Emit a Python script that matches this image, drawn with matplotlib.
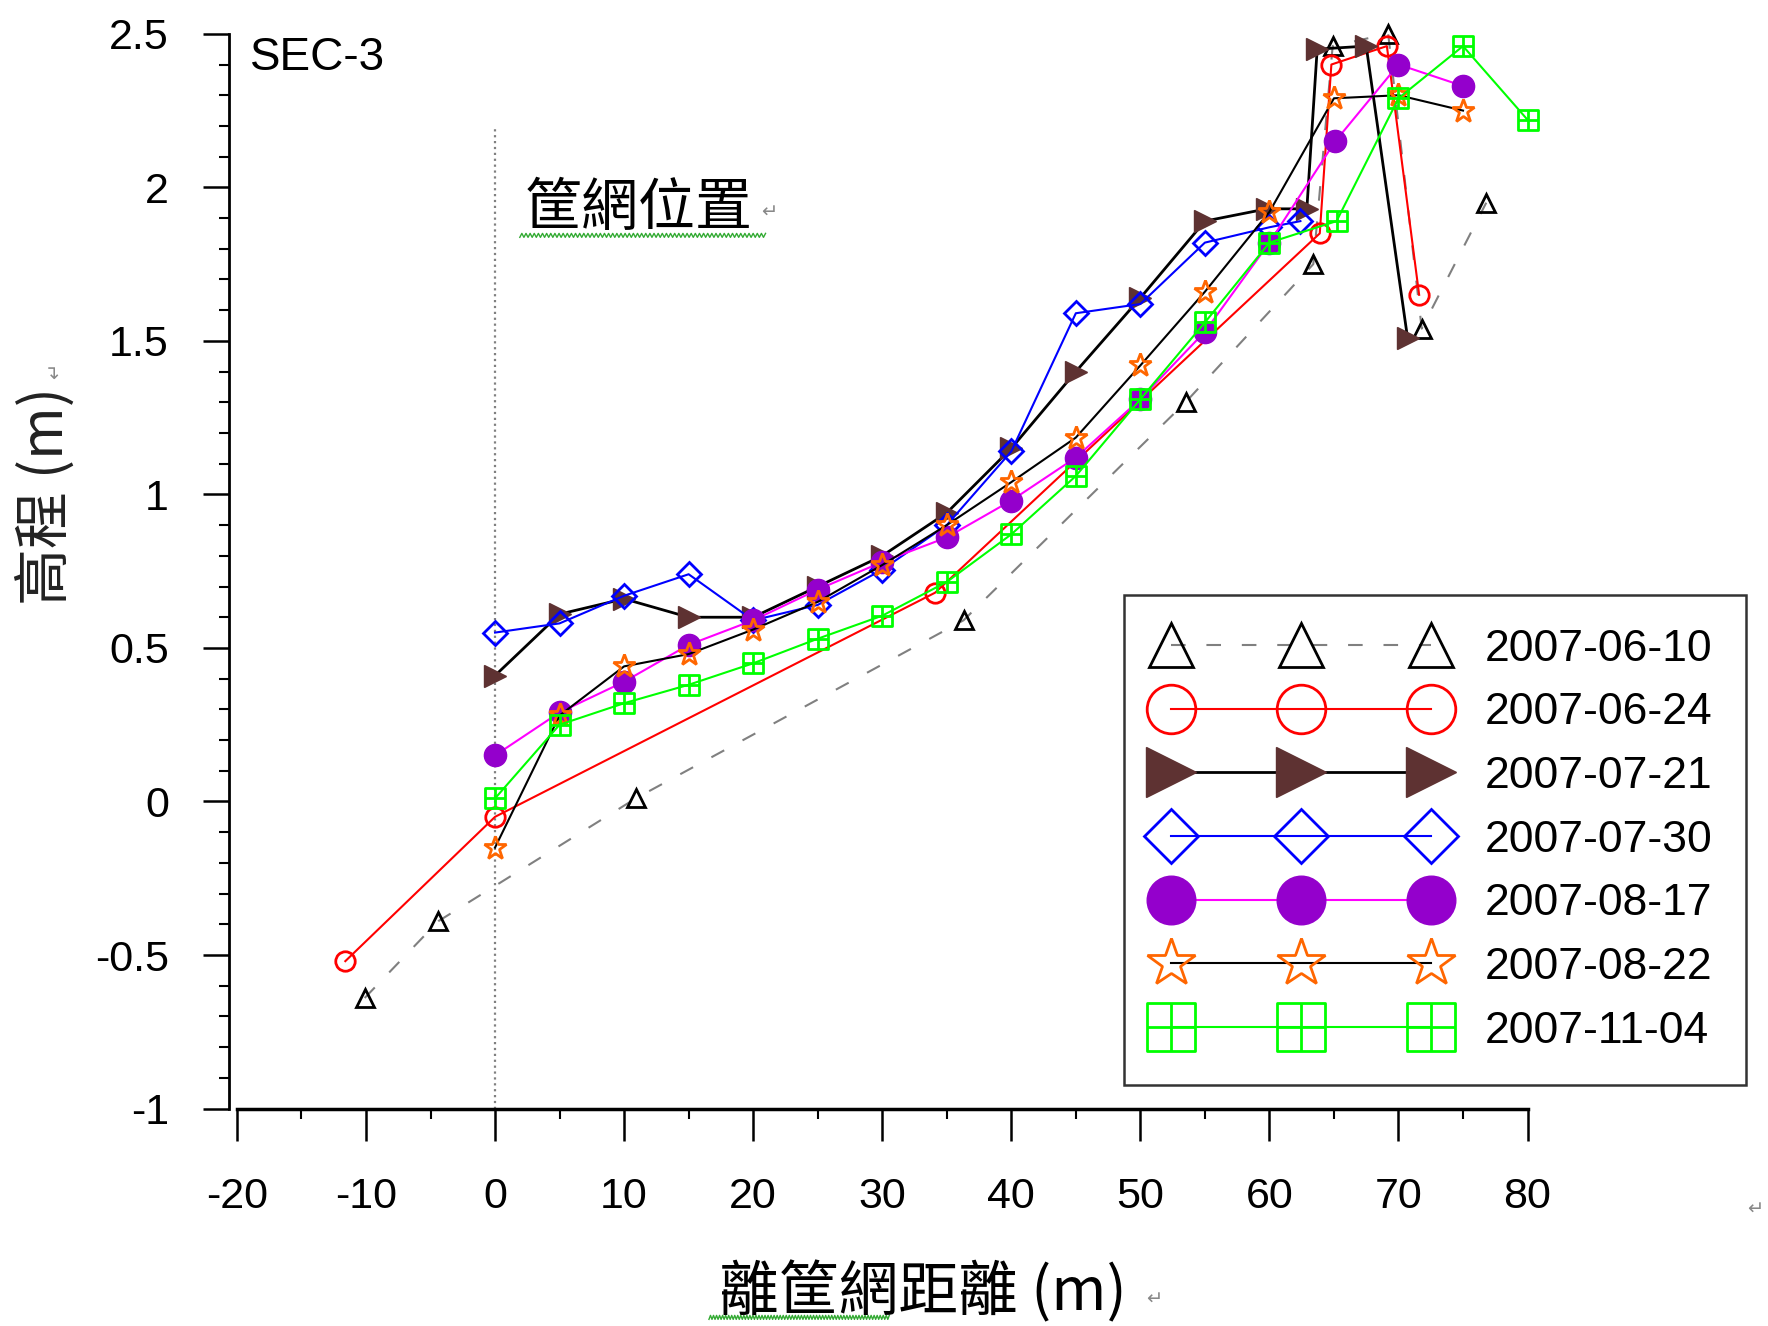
import numpy as np
import matplotlib
matplotlib.use("Agg")
import matplotlib.pyplot as plt
from matplotlib.path import Path
from matplotlib.ticker import MultipleLocator, FormatStrFormatter

plt.rcParams['font.family'] = ['Liberation Sans', 'Noto Sans CJK TC', 'DejaVu Sans']
plt.rcParams['axes.unicode_minus'] = False

# survey dates
labels = ['2007-06-10', '2007-06-24', '2007-07-21', '2007-07-30',
          '2007-08-17', '2007-08-22', '2007-11-04']

# distance from net (m) / elevation (m)
x_0610 = [-10.1, -4.4, 10.9, 36.3, 53.5, 63.4, 64.9, 69.2, 71.8, 76.8]
y_0610 = [-0.64, -0.39, 0.01, 0.59, 1.30, 1.75, 2.46, 2.50, 1.54, 1.95]

x_0624 = [-11.6, 0, 34.1, 63.9, 64.8, 69.1, 71.6]
y_0624 = [-0.52, -0.05, 0.68, 1.85, 2.40, 2.46, 1.65]

x_0721 = [0, 5, 10, 15, 20, 25, 30, 35, 40, 45, 50, 55, 59.8, 62.9, 63.7, 67.5, 70.7]
y_0721 = [0.41, 0.61, 0.66, 0.60, 0.60, 0.70, 0.80, 0.94, 1.15, 1.40, 1.64, 1.89, 1.93, 1.93, 2.45, 2.46, 1.51]

x_0730 = [0, 5, 10, 15, 20, 25, 30, 35, 40, 45, 50, 55, 60, 62.4]
y_0730 = [0.55, 0.58, 0.67, 0.74, 0.59, 0.64, 0.755, 0.90, 1.14, 1.59, 1.62, 1.82, 1.87, 1.89]

x_0817 = [0, 5, 10, 15, 20, 25, 30, 35, 40, 45, 50, 55, 60, 65.1, 70, 75]
y_0817 = [0.15, 0.29, 0.39, 0.51, 0.59, 0.69, 0.78, 0.86, 0.98, 1.12, 1.31, 1.53, 1.82, 2.15, 2.40, 2.33]

x_0822 = [0, 5, 10, 15, 20, 25, 30, 35, 40, 45, 50, 55, 60, 65, 70, 75]
y_0822 = [-0.15, 0.28, 0.44, 0.48, 0.56, 0.65, 0.77, 0.90, 1.04, 1.185, 1.42, 1.66, 1.92, 2.29, 2.30, 2.25]

x_1104 = [0, 5, 10, 15, 20, 25, 30, 35, 40, 45, 50, 55, 60, 65.2, 70, 75, 80]
y_1104 = [0.01, 0.25, 0.32, 0.38, 0.45, 0.53, 0.605, 0.715, 0.87, 1.06, 1.31, 1.56, 1.82, 1.89, 2.29, 2.46, 2.22]

net_x = 0
net_top = 2.19

# square with a cross inside
sq_cross = Path([(-1, -1), (1, -1), (1, 1), (-1, 1), (-1, -1),
                 (0, -1), (0, 1), (-1, 0), (1, 0)],
                [Path.MOVETO, Path.LINETO, Path.LINETO, Path.LINETO, Path.CLOSEPOLY,
                 Path.MOVETO, Path.LINETO, Path.MOVETO, Path.LINETO])

fig = plt.figure(figsize=(17.68, 13.26), dpi=100)
ax = fig.add_axes([0.134, 0.164, 0.730, 0.8105])

ax.vlines(net_x, -1, net_top, colors='#808080', linestyles=':', linewidth=1.6, zorder=1)

ax.plot(x_0610, y_0610, color='#808080', linestyle=(0, (7, 10)), linewidth=1.5,
        marker='^', ms=13, mec='black', mfc='none', mew=2, label=labels[0], clip_on=False)
ax.plot(x_0624, y_0624, color='#FF0000', linewidth=1.5,
        marker='o', ms=14, mec='#FF0000', mfc='none', mew=2, label=labels[1], clip_on=False)
ax.plot(x_0721, y_0721, color='black', linewidth=2,
        marker='>', ms=16, mec='#5E3232', mfc='#5E3232', label=labels[2], clip_on=False)
ax.plot(x_0730, y_0730, color='#0000FF', linewidth=1.5,
        marker='D', ms=12, mec='#0000FF', mfc='none', mew=2, label=labels[3], clip_on=False)
ax.plot(x_0817, y_0817, color='#FF00FF', linewidth=1.5,
        marker='o', ms=16, mec='#9400CC', mfc='#9400CC', label=labels[4], clip_on=False)
ax.plot(x_0822, y_0822, color='black', linewidth=1.5,
        marker='*', ms=17, mec='#FF6600', mfc='none', mew=2, label=labels[5], clip_on=False)
ax.plot(x_1104, y_1104, color='#00FF00', linewidth=1.5,
        marker=sq_cross, ms=15, mec='#00FF00', mfc='none', mew=2, label=labels[6], clip_on=False)

ax.set_xlim(-20, 80)
ax.set_ylim(-1, 2.5)
ax.xaxis.set_major_locator(MultipleLocator(10))
ax.xaxis.set_minor_locator(MultipleLocator(5))
ax.yaxis.set_major_locator(MultipleLocator(0.5))
ax.yaxis.set_minor_locator(MultipleLocator(0.1))
ax.yaxis.set_major_formatter(FormatStrFormatter('%g'))

for s in ['top', 'right']:
    ax.spines[s].set_visible(False)
ax.spines['left'].set_position(('outward', 6))
ax.spines['left'].set_linewidth(2)
ax.spines['bottom'].set_linewidth(2.5)
ax.tick_params(axis='y', which='major', direction='out', length=19, width=1.8, pad=24, labelsize=31)
ax.tick_params(axis='y', which='minor', direction='out', length=7, width=1.5)
ax.tick_params(axis='x', which='major', direction='out', length=23, width=1.8, pad=26, labelsize=31)
ax.tick_params(axis='x', which='minor', direction='out', length=7, width=1.5)

ax.text(-19, 2.42, 'SEC-3', fontsize=33, ha='left', va='center')
ax.text(2.3, 1.93, '筐網位置', fontsize=41, ha='left', va='center',
        family=['Noto Sans CJK TC', 'DejaVu Sans'])
ax.text(20.6, 1.92, '↵', fontsize=14, color='#888888', ha='left', va='center',
        family='DejaVu Sans')

fig.text(0.522, 0.025, '離筐網距離 (m)', fontsize=43, ha='center', va='center',
         family=['Noto Sans CJK TC', 'DejaVu Sans'])
fig.text(0.648, 0.020, '↵', fontsize=14, color='#888888', ha='left', va='center',
         family='DejaVu Sans')
fig.text(0.026, 0.626, '高程 (m)', fontsize=41, ha='center', va='center', rotation=90,
         color='#222222', family=['Noto Sans CJK TC', 'DejaVu Sans'])
fig.text(0.031, 0.72, '↵', fontsize=14, color='#888888', ha='center', va='center',
         rotation=90, family='DejaVu Sans')
fig.text(0.993, 0.088, '↵', fontsize=14, color='#888888', ha='center', va='center',
         family='DejaVu Sans')

# green wavy underline (spell-check marks from the source document)
t = np.linspace(0, 1, 120)
zig = np.where(np.arange(120) % 2 == 0, 0.0, 1.0)
fig.add_artist(plt.Line2D(0.294 + t * 0.139, 0.821 + zig * 0.003,
                          color='#33AA33', linewidth=1, transform=fig.transFigure))
fig.add_artist(plt.Line2D(0.401 + t * 0.102, 0.005 + zig * 0.003,
                          color='#33AA33', linewidth=1, transform=fig.transFigure))

leg = ax.legend(loc='upper left', bbox_to_anchor=(0.636, 0.551), bbox_transform=fig.transFigure,
                borderaxespad=0, numpoints=3, fontsize=32,
                handlelength=6.45, handletextpad=0.9, labelspacing=0.51,
                borderpad=0.75, fancybox=False, frameon=True)
leg.get_frame().set_edgecolor('black')
leg.get_frame().set_linewidth(1.8)
leg_ms = [31, 35, 36, 27, 35, 36, 35]
for h, m in zip(leg.legend_handles, leg_ms):
    h.set_markersize(m)

fig.savefig('out.png', dpi=100)
